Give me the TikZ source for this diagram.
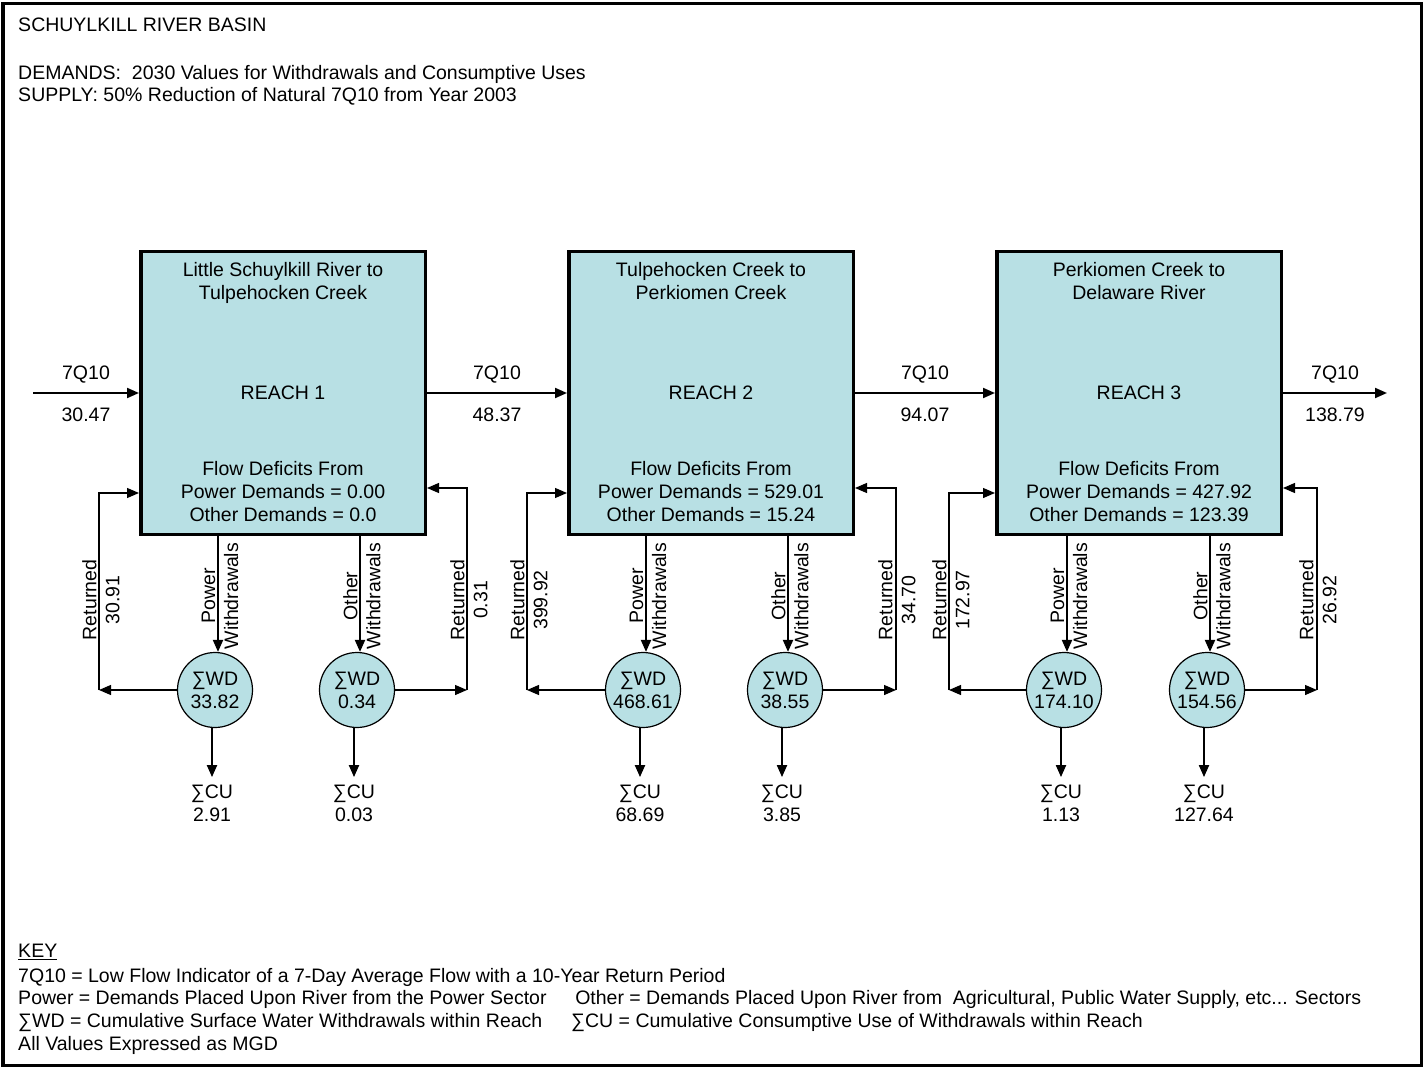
\documentclass[tikz,border=0pt]{standalone}
\usepackage{fontspec}
\setmainfont{Liberation Sans}
\usetikzlibrary{calc,positioning,arrows.meta}
\definecolor{reachblue}{RGB}{184,224,228}
\tikzstyle{every node}+=[inner sep=0.5mm,font=\fontsize{9.75pt}{11.5pt}\selectfont]
\tikzstyle{reach}=[draw,fill=reachblue,line width=1.75pt,minimum width=142.25pt,minimum height=141.25pt]
\tikzstyle{wd}=[draw,circle,fill=reachblue,line width=0.6pt,minimum size=37.5pt,inner sep=0pt,align=center]
\tikzstyle{flow}=[-{Triangle[length=6pt,width=5pt]},line width=1pt]
\tikzstyle{ret}=[-{Triangle[length=6pt,width=5pt]},line width=0.65pt]
\tikzstyle{lbl}=[align=center,rotate=90]
\tikzstyle{txt}=[anchor=base west]

\begin{document}
\begin{tikzpicture}[x=0.5pt,y=-0.5pt]
\useasboundingbox (0,0) rectangle (1426,1070);
\draw[line width=1.75pt] (3,3.5) rectangle (1421.5,1065.5);

\node[txt] (head) at (15,32) {SCHUYLKILL RIVER BASIN};
\node[txt] (dem) at (15,80) {DEMANDS:~~2030 Values for Withdrawals and Consumptive Uses};
\node[txt] (sup) at (15,102) {SUPPLY: 50\% Reduction of Natural 7Q10 from Year 2003};

\node[reach] (r1) at (283,393) {REACH 1};
\node[reach] (r2) at (711,393) {REACH 2};
\node[reach] (r3) at (1139,393) {REACH 3};

\node[align=center,anchor=north] (t1) at ($(r1.north)+(0,9)$) {Little Schuylkill River to\\Tulpehocken Creek};
\node[align=center,anchor=north] (t2) at ($(r2.north)+(0,9)$) {Tulpehocken Creek to\\Perkiomen Creek};
\node[align=center,anchor=north] (t3) at ($(r3.north)+(0,9)$) {Perkiomen Creek to\\Delaware River};

\node[align=center,anchor=south] (d1) at ($(r1.south)+(0,-11.5)$) {Flow Deficits From\\Power Demands = 0.00\\Other Demands = 0.0};
\node[align=center,anchor=south] (d2) at ($(r2.south)+(0,-11.5)$) {Flow Deficits From\\Power Demands = 529.01\\Other Demands = 15.24};
\node[align=center,anchor=south] (d3) at ($(r3.south)+(0,-11.5)$) {Flow Deficits From\\Power Demands = 427.92\\Other Demands = 123.39};

\coordinate (in) at (33,393);
\coordinate (out) at (1387,393);
\draw[flow] (in) -- (r1) node[midway,above=3pt] {7Q10} node[midway,below=5.5pt] {30.47};
\draw[flow] (r1) -- (r2) node[midway,above=3pt] {7Q10} node[midway,below=5.5pt] {48.37};
\draw[flow] (r2) -- (r3) node[midway,above=3pt] {7Q10} node[midway,below=5.5pt] {94.07};
\draw[flow] (r3) -- (out) node[midway,above=3pt] {7Q10} node[midway,below=5.5pt] {138.79};

\node[wd] (w1p) at (215,690) {∑WD\\33.82};
\node[wd] (w1o) at (357,690) {∑WD\\0.34};
\node[wd] (w2p) at (643,690) {∑WD\\468.61};
\node[wd] (w2o) at (785,690) {∑WD\\38.55};
\node[wd] (w3p) at (1064,690) {∑WD\\174.10};
\node[wd] (w3o) at (1207,690) {∑WD\\154.56};

\draw[flow] ($(r1.south -| w1p)+(3,0)$) -- ($(w1p.north)+(3,0)$);
\draw[flow] ($(r1.south -| w1o)+(3,0)$) -- ($(w1o.north)+(3,0)$);
\draw[flow] ($(r2.south -| w2p)+(3,0)$) -- ($(w2p.north)+(3,0)$);
\draw[flow] ($(r2.south -| w2o)+(3,0)$) -- ($(w2o.north)+(3,0)$);
\draw[flow] ($(r3.south -| w3p)+(3,0)$) -- ($(w3p.north)+(3,0)$);
\draw[flow] ($(r3.south -| w3o)+(3,0)$) -- ($(w3o.north)+(3,0)$);

\node[lbl] at (220,596) {Power\\Withdrawals};
\node[lbl] at (362,596) {Other\\Withdrawals};
\node[lbl] at (648,596) {Power\\Withdrawals};
\node[lbl] at (790,596) {Other\\Withdrawals};
\node[lbl] at (1069,596) {Power\\Withdrawals};
\node[lbl] at (1212,596) {Other\\Withdrawals};

\draw[flow] ($(w1p.south)+(-3,0)$) -- ++(0,49) coordinate (u1p);
\draw[flow] ($(w1o.south)+(-3,0)$) -- ++(0,49) coordinate (u1o);
\draw[flow] ($(w2p.south)+(-3,0)$) -- ++(0,49) coordinate (u2p);
\draw[flow] ($(w2o.south)+(-3,0)$) -- ++(0,49) coordinate (u2o);
\draw[flow] ($(w3p.south)+(-3,0)$) -- ++(0,49) coordinate (u3p);
\draw[flow] ($(w3o.south)+(-3,0)$) -- ++(0,49) coordinate (u3o);

\node[align=center,below=2.5pt of u1p] {∑CU\\2.91};
\node[align=center,below=2.5pt of u1o] {∑CU\\0.03};
\node[align=center,below=2.5pt of u2p] {∑CU\\68.69};
\node[align=center,below=2.5pt of u2o] {∑CU\\3.85};
\node[align=center,below=2.5pt of u3p] {∑CU\\1.13};
\node[align=center,below=2.5pt of u3o] {∑CU\\127.64};

\coordinate (l1) at (99,690);
\coordinate (m1) at (467,690);
\coordinate (l2) at (527,690);
\coordinate (m2) at (896,690);
\coordinate (l3) at (949,690);
\coordinate (m3) at (1317,690);

\draw[ret] (w1p) -- (l1);
\draw[ret] (l1) |- ($(r1.west)+(0,100)$);
\draw[ret] (w1o) -- (m1);
\draw[ret] (m1) |- ($(r1.east)+(0,95)$);
\draw[ret] (w2p) -- (l2);
\draw[ret] (l2) |- ($(r2.west)+(0,100)$);
\draw[ret] (w2o) -- (m2);
\draw[ret] (m2) |- ($(r2.east)+(0,95)$);
\draw[ret] (w3p) -- (l3);
\draw[ret] (l3) |- ($(r3.west)+(0,100)$);
\draw[ret] (w3o) -- (m3);
\draw[ret] (m3) |- ($(r3.east)+(0,95)$);

\node[lbl] at (101,600) {Returned\\30.91};
\node[lbl] at (469,600) {Returned\\0.31};
\node[lbl] at (529,600) {Returned\\399.92};
\node[lbl] at (897,600) {Returned\\34.70};
\node[lbl] at (951,600) {Returned\\172.97};
\node[lbl] at (1318,600) {Returned\\26.92};

\node[txt] (key) at (15,957) {\underline{KEY}};
\node[txt] (k1) at (15,982) {7Q10 = Low Flow Indicator of a 7-Day Average Flow with a 10-Year Return Period};
\node[txt] (k2) at (15,1004) {Power = Demands Placed Upon River from the Power Sector};
\node[txt] (k3) at (15,1027) {∑WD = Cumulative Surface Water Withdrawals within Reach};
\node[txt] (k4) at (15,1050) {All Values Expressed as MGD};
\node[txt] (k5) at (572,1004) {Other = Demands Placed Upon River from~ Agricultural, Public Water Supply, etc... Sectors};
\node[txt] (k6) at (568,1027) {∑CU = Cumulative Consumptive Use of Withdrawals within Reach};
\end{tikzpicture}
\end{document}
